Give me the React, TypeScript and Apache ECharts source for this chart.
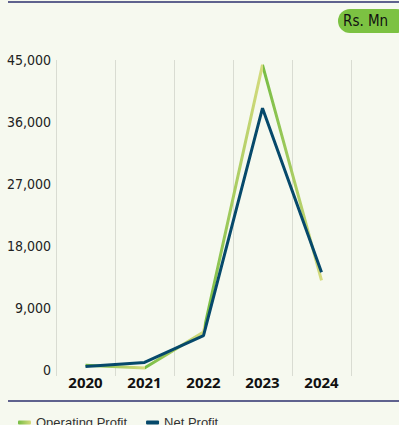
import React, { useEffect, useRef } from "react";
import * as echarts from "echarts";

const years = ["2020", "2021", "2022", "2023", "2024"];
const operatingProfit = [700, 300, 5500, 44300, 13000];
const netProfit = [500, 1100, 5000, 38000, 14200];
const yTicks = [0, 9000, 18000, 27000, 36000, 45000];

const GREEN = "#76bd43";
const PALE = "#d6db7e";
const NAVY = "#06496b";
const NARROW = "'Liberation Sans Narrow', 'DejaVu Sans Condensed', 'Open Sans', sans-serif";

function sawGradient() {
  const n = years.length - 1;
  const stops: { offset: number; color: string }[] = [];
  for (let i = 0; i < n; i++) {
    stops.push({ offset: i / n + (i === 0 ? 0 : 0.001), color: GREEN });
    stops.push({ offset: (i + 1) / n, color: PALE });
  }
  return new echarts.graphic.LinearGradient(0, 0, 1, 0, stops);
}

export default function App() {
  const ref = useRef<HTMLDivElement>(null);
  useEffect(() => {
    if (!ref.current) return;
    const chart = echarts.init(ref.current, null, { renderer: "svg" });
    chart.setOption({
      animation: false,
      backgroundColor: "#f6f9ef",
      grid: { left: 56, right: 48, top: 60, bottom: 55 },
      graphic: [
        { type: "line", shape: { x1: 8, y1: 2, x2: 399, y2: 2 }, style: { stroke: "#2c2f6e", lineWidth: 1.5 } },
        { type: "line", shape: { x1: 8, y1: 401, x2: 399, y2: 401 }, style: { stroke: "#2c2f6e", lineWidth: 1.5 } },
        { type: "rect", shape: { x: 338, y: 9, width: 70, height: 24, r: 12 }, style: { fill: "#7cc242" } },
        {
          type: "text",
          x: 343,
          y: 21,
          style: {
            text: "Rs. Mn",
            fill: "#111",
            font: "15px " + NARROW,
            verticalAlign: "middle",
          },
        },
      ],
      legend: {
        left: 13,
        top: 411,
        itemWidth: 13,
        itemHeight: 4,
        itemGap: 19,
        icon: "roundRect",
        textStyle: { color: "#333", fontSize: 13, fontFamily: "Liberation Sans, Arial, sans-serif" },
        data: [
          { name: "Operating Profit", itemStyle: { color: new echarts.graphic.LinearGradient(0, 0, 1, 0, [{ offset: 0, color: GREEN }, { offset: 1, color: PALE }]) } },
          { name: "Net Profit", itemStyle: { color: NAVY } },
        ],
      },
      xAxis: {
        type: "category",
        data: years,
        boundaryGap: true,
        axisLine: { show: false },
        axisTick: { show: true, length: 6, lineStyle: { color: "#d9dcd2" } },
        splitLine: { show: true, lineStyle: { color: "#d9dcd2", width: 1 } },
        axisLabel: { color: "#111", fontSize: 15, fontWeight: "bold", fontFamily: "Open Sans, sans-serif", margin: 4 },
      },
      yAxis: {
        type: "value",
        min: 0,
        max: 45000,
        interval: 9000,
        axisLine: { show: false },
        axisTick: { show: false },
        splitLine: { show: false },
        axisLabel: {
          color: "#222",
          fontSize: 14,
          fontFamily: NARROW,
          margin: 5,
          formatter: (v: number) => (yTicks.includes(v) ? v.toLocaleString("en-US") : ""),
        },
      },
      series: [
        {
          name: "Operating Profit",
          type: "line",
          data: operatingProfit,
          symbol: "none",
          lineStyle: { width: 3, color: sawGradient() },
          itemStyle: { color: GREEN },
        },
        {
          name: "Net Profit",
          type: "line",
          data: netProfit,
          symbol: "none",
          lineStyle: { width: 3, color: NAVY },
          itemStyle: { color: NAVY },
        },
      ],
    });
    return () => chart.dispose();
  }, []);
  return (
    <div
      ref={ref}
      style={{ position: "fixed", left: 0, top: 0, width: 399, height: 425 }}
    />
  );
}
